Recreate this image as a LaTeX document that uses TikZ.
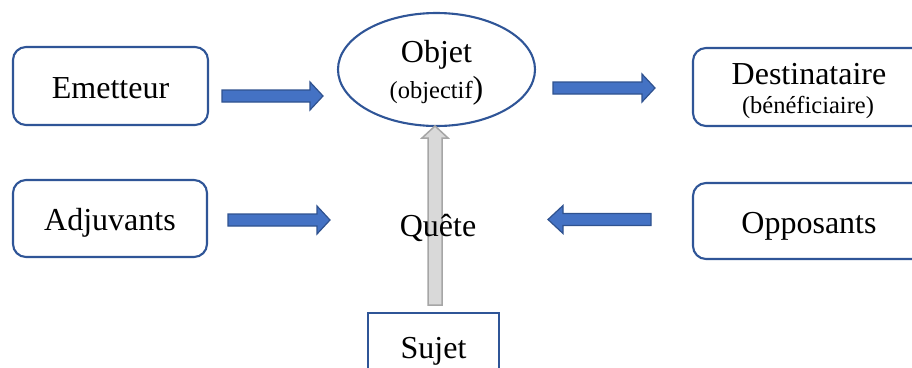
\documentclass[tikz,border=0pt]{standalone}
\usepackage{fontspec}
\setmainfont{Liberation Serif}
\usetikzlibrary{shapes.geometric}
\definecolor{boxblue}{HTML}{2F5597}
\definecolor{arrfill}{HTML}{4472C4}
\definecolor{arrline}{HTML}{2F528F}
\definecolor{grayfill}{HTML}{D9D9D9}
\definecolor{grayline}{HTML}{A6A6A6}
\newcommand\bigtxt{\fontsize{32}{36}\selectfont}
\newcommand\smalltxt{\fontsize{24.5}{29}\selectfont}
\tikzset{
  rbox/.style={draw=boxblue, line width=2.1pt, rounded corners=13pt, fill=white,
    inner sep=0pt, align=center, font=\bigtxt, text height=26pt, text depth=2pt},
  sbox/.style={draw=boxblue, line width=2.1pt, fill=white, inner sep=0pt, font=\bigtxt},
  oval/.style={draw=boxblue, line width=2.1pt, ellipse, inner sep=0pt},
  plaintxt/.style={inner sep=0pt, font=\bigtxt},
  blockarr/.style={draw=arrline, fill=arrfill, line width=1.2pt, line join=miter},
  grayarr/.style={draw=grayline, fill=grayfill, line width=1.5pt, line join=miter}
}
% horizontal block arrow: #1 start x, #2 tip x, #3 centre y, #4 head length (signed)
\newcommand\harrow[4]{%
  \draw[blockarr] (#1,#3-6) -- ({#2-(#4)},#3-6) -- ({#2-(#4)},#3-14) -- (#2,#3)
    -- ({#2-(#4)},#3+14) -- ({#2-(#4)},#3+6) -- (#1,#3+6) -- cycle;}
\begin{document}
\begin{tikzpicture}[x=1pt,y=-1pt]
\useasboundingbox (0,0) rectangle (912,367);
\node[rbox, minimum width=195pt, minimum height=78pt] (em) at (110.5,86) {Emetteur};
\node[rbox, minimum width=194pt, minimum height=77pt] (adj) at (110,218.5) {Adjuvants};
\node[oval, minimum width=197pt, minimum height=113pt] (obj) at (436.5,69.5) {};
\node[plaintxt, anchor=base] (objt) at (436.5,62) {Objet};
\node[plaintxt, anchor=base] (objs) at (436.5,98) {{\smalltxt (objectif}{)}};
\node[rbox, minimum width=232pt, minimum height=78pt] (dest) at (809,87) {};
\node[plaintxt, anchor=base] (destt) at (809,84) {Destinataire};
\node[plaintxt, anchor=base] (dests) at (808,113) {\smalltxt (bénéficiaire)};
\node[rbox, minimum width=232pt, minimum height=76pt] (opp) at (809,221) {Opposants};
\node[sbox, minimum width=131pt, minimum height=76pt] (suj) at (433.5,351) {Sujet};
% block arrows
\harrow{222}{323}{96}{13}
\harrow{553}{655}{88}{13}
\harrow{228}{330}{220}{13}
\harrow{651}{548}{219.5}{-15}
% grey vertical arrow
\coordinate (gb) at (435,305);
\coordinate (gt) at (435,126);
\draw[grayarr] ([xshift=-7pt]gb) -- ([xshift=-7pt,yshift=-12pt]gt) -- ([xshift=-13pt,yshift=-12pt]gt)
  -- (gt) -- ([xshift=13pt,yshift=-12pt]gt) -- ([xshift=7pt,yshift=-12pt]gt) -- ([xshift=7pt]gb) -- cycle;
\node[plaintxt] (quete) at (438,228) {Quête};
\end{tikzpicture}
\end{document}
